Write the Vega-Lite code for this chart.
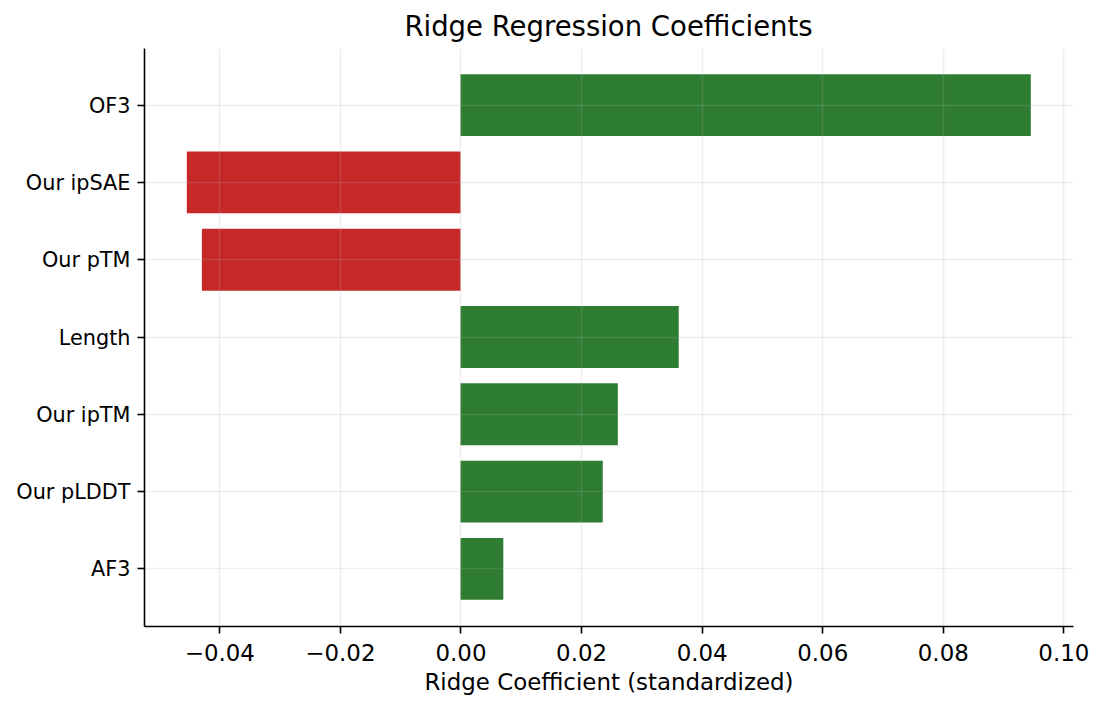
{
  "$schema": "https://vega.github.io/schema/vega-lite/v6.json",
  "width": 929,
  "height": 578,
  "autosize": {"type": "none"},
  "padding": {"left": 144, "top": 48, "right": 31, "bottom": 84},
  "background": "white",
  "title": {
    "text": "Ridge Regression Coefficients",
    "fontSize": 27.5,
    "font": "DejaVu Sans",
    "fontWeight": "normal",
    "color": "#000000",
    "anchor": "middle",
    "offset": -21,
    "baseline": "bottom"
  },
  "data": {
    "values": [
      {"feature": "OF3", "coef": 0.0946},
      {"feature": "Our ipSAE", "coef": -0.0454},
      {"feature": "Our pTM", "coef": -0.0429},
      {"feature": "Length", "coef": 0.0362},
      {"feature": "Our ipTM", "coef": 0.0261},
      {"feature": "Our pLDDT", "coef": 0.0236},
      {"feature": "AF3", "coef": 0.0071}
    ]
  },
  "mark": {"type": "bar"},
  "encoding": {
    "y": {
      "field": "feature",
      "type": "nominal",
      "sort": null,
      "scale": {"paddingInner": 0.2, "paddingOuter": 0.34},
      "axis": {
        "title": null,
        "labelFont": "DejaVu Sans",
        "labelFontSize": 20.8,
        "labelColor": "#000000",
        "labelPadding": 7,
        "labelOffset": 1.5,
        "tickSize": 7,
        "tickWidth": 1.6,
        "tickColor": "#000000",
        "domainColor": "#000000",
        "domainWidth": 1.6,
        "grid": true,
        "gridColor": "#b0b0b0",
        "gridOpacity": 0.2,
        "gridWidth": 1.6,
        "zindex": 1
      }
    },
    "x": {
      "field": "coef",
      "type": "quantitative",
      "scale": {"domain": [-0.0525, 0.1016], "nice": false, "zero": false},
      "axis": {
        "title": "Ridge Coefficient (standardized)",
        "titleFont": "DejaVu Sans",
        "titleFontSize": 22.9,
        "titleFontWeight": "normal",
        "titleColor": "#000000",
        "titlePadding": 7,
        "values": [-0.04, -0.02, 0, 0.02, 0.04, 0.06, 0.08, 0.1],
        "format": ".2f",
        "labelFont": "DejaVu Sans",
        "labelFontSize": 22.9,
        "labelColor": "#000000",
        "labelPadding": 9,
        "labelFlush": false,
        "tickSize": 7,
        "tickWidth": 1.6,
        "tickColor": "#000000",
        "domainColor": "#000000",
        "domainWidth": 1.6,
        "grid": true,
        "gridColor": "#b0b0b0",
        "gridOpacity": 0.2,
        "gridWidth": 1.6,
        "zindex": 1
      }
    },
    "x2": {"datum": 0},
    "color": {
      "condition": {"test": "datum.coef < 0", "value": "#c62828"},
      "value": "#2e7d32"
    }
  },
  "config": {"view": {"stroke": null}}
}
